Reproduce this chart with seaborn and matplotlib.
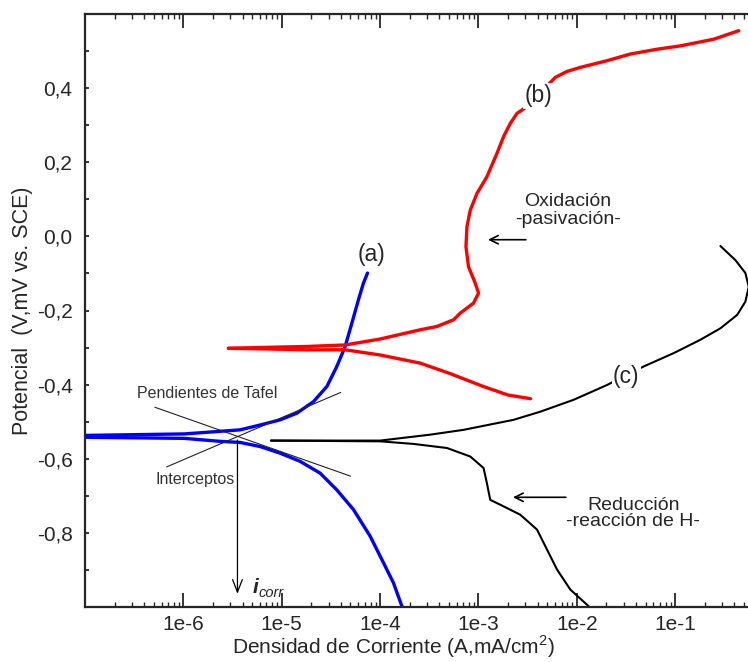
import numpy as np
import pandas as pd
import matplotlib
matplotlib.use("Agg")
import matplotlib.pyplot as plt
import matplotlib.ticker as mticker
import seaborn as sns


# Curve (a) - blue, log10 of current density and potential
a_anod_logi = [-7.0, -5.99, -5.627, -5.423, -5.220, -5.016, -4.846, -4.678, -4.541, -4.440,
               -4.355, -4.287, -4.220, -4.169, -4.128]
a_anod_e = [-0.537, -0.533, -0.526, -0.522, -0.509, -0.495, -0.477, -0.446, -0.405, -0.351,
            -0.297, -0.234, -0.171, -0.126, -0.099]
a_cath_logi = [-7.0, -5.99, -5.627, -5.423, -5.220, -5.016, -4.813, -4.609, -4.440, -4.271,
               -4.101, -3.965, -3.864, -3.778]
a_cath_e = [-0.542, -0.545, -0.553, -0.556, -0.567, -0.585, -0.607, -0.639, -0.684, -0.737,
            -0.809, -0.881, -0.935, -0.998]

# Curve (b) - red
b_anod_logi = [-5.542, -5.085, -4.745, -4.355, -4.0, -3.592, -3.422, -3.253, -3.185, -3.050,
               -2.999, -3.033, -3.101, -3.127, -3.117, -3.083, -3.015, -2.914, -2.812, -2.745,
               -2.676, -2.608, -2.507, -2.219, -2.100, -1.964, -1.693, -1.456, -1.184, -0.947,
               -0.608, -0.354]
b_anod_e = [-0.302, -0.299, -0.297, -0.293, -0.277, -0.252, -0.243, -0.225, -0.207, -0.180,
            -0.153, -0.126, -0.082, -0.028, 0.026, 0.071, 0.116, 0.161, 0.224, 0.269,
            0.305, 0.332, 0.350, 0.429, 0.445, 0.456, 0.474, 0.492, 0.505, 0.514,
            0.532, 0.555]
b_cath_logi = [-5.542, -5.085, -4.745, -4.355, -4.0, -3.592, -3.29, -2.95, -2.70, -2.47]
b_cath_e = [-0.302, -0.304, -0.306, -0.306, -0.320, -0.342, -0.370, -0.405, -0.428, -0.438]

# Curve (c) - black
c_anod_logi = [-5.11, -3.999, -3.490, -3.151, -2.643, -2.371, -2.033, -1.693, -1.320, -1.015,
               -0.744, -0.540, -0.370, -0.286, -0.252, -0.286, -0.388, -0.540]
c_anod_e = [-0.551, -0.551, -0.535, -0.522, -0.495, -0.473, -0.441, -0.401, -0.351, -0.315,
            -0.279, -0.248, -0.212, -0.176, -0.136, -0.099, -0.064, -0.026]
c_cath_logi = [-5.11, -3.999, -3.660, -3.320, -3.083, -2.948, -2.914, -2.880, -2.778, -2.575,
               -2.405, -2.303, -2.201, -2.066, -1.896, -1.86]
c_cath_e = [-0.551, -0.553, -0.560, -0.571, -0.594, -0.625, -0.666, -0.711, -0.724, -0.751,
            -0.791, -0.845, -0.899, -0.953, -0.994, -1.003]

# Tafel slopes (straight lines)
tafel_anod_logi = [-6.17, -4.40]
tafel_anod_e = [-0.622, -0.421]
tafel_cath_logi = [-6.29, -4.30]
tafel_cath_e = [-0.461, -0.647]

icorr_logi = -5.45
icorr_e = [-0.542, -0.972]

x_ticks = [1e-6, 1e-5, 1e-4, 1e-3, 1e-2, 1e-1]
y_ticks = [-0.8, -0.6, -0.4, -0.2, 0.0, 0.2, 0.4]


def to_df(logi, e):
    return pd.DataFrame({"i": 10.0 ** np.array(logi), "E": e})


sns.set_style("ticks")
plt.rcParams["font.family"] = ["Liberation Sans", "DejaVu Sans"]
plt.rcParams["mathtext.fontset"] = "custom"
plt.rcParams["mathtext.rm"] = "Liberation Sans"

fig = plt.figure(figsize=(7.48, 6.62), dpi=100)
ax = fig.add_axes([85 / 748, 1 - 607 / 662, 663 / 748, 593 / 662])

curves = [
    (a_anod_logi, a_anod_e, "#0000ff", 2.4),
    (a_cath_logi, a_cath_e, "#0000ff", 2.4),
    (b_anod_logi, b_anod_e, "#ff0000", 2.4),
    (b_cath_logi, b_cath_e, "#ff0000", 2.4),
    (c_anod_logi, c_anod_e, "black", 1.5),
    (c_cath_logi, c_cath_e, "black", 1.5),
]
for logi, e, col, lw in curves:
    sns.lineplot(data=to_df(logi, e), x="i", y="E", sort=False, estimator=None,
                 color=col, lw=lw, ax=ax)

for logi, e in [(tafel_anod_logi, tafel_anod_e), (tafel_cath_logi, tafel_cath_e)]:
    sns.lineplot(data=to_df(logi, e), x="i", y="E", sort=False, estimator=None,
                 color="#222222", lw=0.8, ax=ax)

ax.set_xscale("log")
ax.set_xlim(1e-7, 0.55)
ax.set_ylim(-1.0, 0.6)

# icorr arrow
ax.annotate("", xy=(10 ** icorr_logi, icorr_e[1]), xytext=(10 ** icorr_logi, icorr_e[0]),
            arrowprops=dict(arrowstyle="->,head_length=0.9,head_width=0.35", color="black", lw=0.9))
ax.text(10 ** -5.30, -0.961, "i", fontsize=15, fontweight="bold", fontstyle="italic")
ax.text(10 ** -5.235, -0.972, "corr", fontsize=10.5, fontstyle="italic")

# Labels on curves
box = dict(facecolor="white", edgecolor="none", pad=1)
ax.text(10 ** -4.084, -0.05, "(a)", fontsize=16.5, ha="center", va="center")
ax.text(10 ** -2.389, 0.379, "(b)", fontsize=16.5, ha="center", va="center", bbox=box)
ax.text(10 ** -1.497, -0.378, "(c)", fontsize=16.5, ha="center", va="center", bbox=box)

ax.text(10 ** -6.474, -0.425, "Pendientes de Tafel", fontsize=11.5, color="#333333",
        ha="left", va="center")
ax.text(10 ** -6.288, -0.657, "Interceptos", fontsize=11.5, color="#333333",
        ha="left", va="center")

ax.text(10 ** -2.09, 0.07, "Oxidación\n-pasivación-", fontsize=14, ha="center", va="center",
        linespacing=1.1)
ax.annotate("", xy=(10 ** -2.931, -0.009), xytext=(10 ** -2.49, -0.009),
            arrowprops=dict(arrowstyle="->,head_length=0.6,head_width=0.3", color="black", lw=1.2))

ax.text(10 ** -1.425, -0.748, "Reducción\n-reacción de H-", fontsize=14, ha="center",
        va="center", linespacing=0.95)
ax.annotate("", xy=(10 ** -2.677, -0.704), xytext=(10 ** -2.083, -0.704),
            arrowprops=dict(arrowstyle="->,head_length=0.6,head_width=0.3", color="black", lw=1.2))

# Ticks
ax.xaxis.set_major_locator(mticker.FixedLocator(x_ticks))
ax.xaxis.set_major_formatter(mticker.FuncFormatter(lambda v, p: f"1e{int(round(np.log10(v)))}"))
ax.xaxis.set_minor_locator(mticker.LogLocator(base=10, subs=np.arange(2, 10), numticks=20))
ax.xaxis.set_minor_formatter(mticker.NullFormatter())
ax.yaxis.set_major_locator(mticker.FixedLocator(y_ticks))
ax.yaxis.set_major_formatter(mticker.FuncFormatter(lambda v, p: f"{v:.1f}".replace(".", ",")))
ax.yaxis.set_minor_locator(mticker.MultipleLocator(0.1))

ax.tick_params(axis="x", which="major", direction="in", length=10, width=1.3,
               top=True, bottom=True, labelsize=15, pad=6)
ax.tick_params(axis="x", which="minor", direction="in", length=3.5, width=1.0,
               top=True, bottom=True)
ax.tick_params(axis="y", which="both", direction="in", length=3, width=1.3,
               left=True, right=False, labelsize=15, pad=9)

for s in ["left", "bottom", "top"]:
    ax.spines[s].set_linewidth(1.6)
ax.spines["right"].set_visible(False)

ax.set_xlabel("Densidad de Corriente (A,mA/cm$^2$)", fontsize=15)
ax.set_ylabel("Potencial  (V,mV vs. SCE)", fontsize=15.5)
ax.xaxis.set_label_coords(0.465, -0.044)
ax.yaxis.set_label_coords(-0.078, 0.5)

fig.savefig("out.png", dpi=100, facecolor="white")
